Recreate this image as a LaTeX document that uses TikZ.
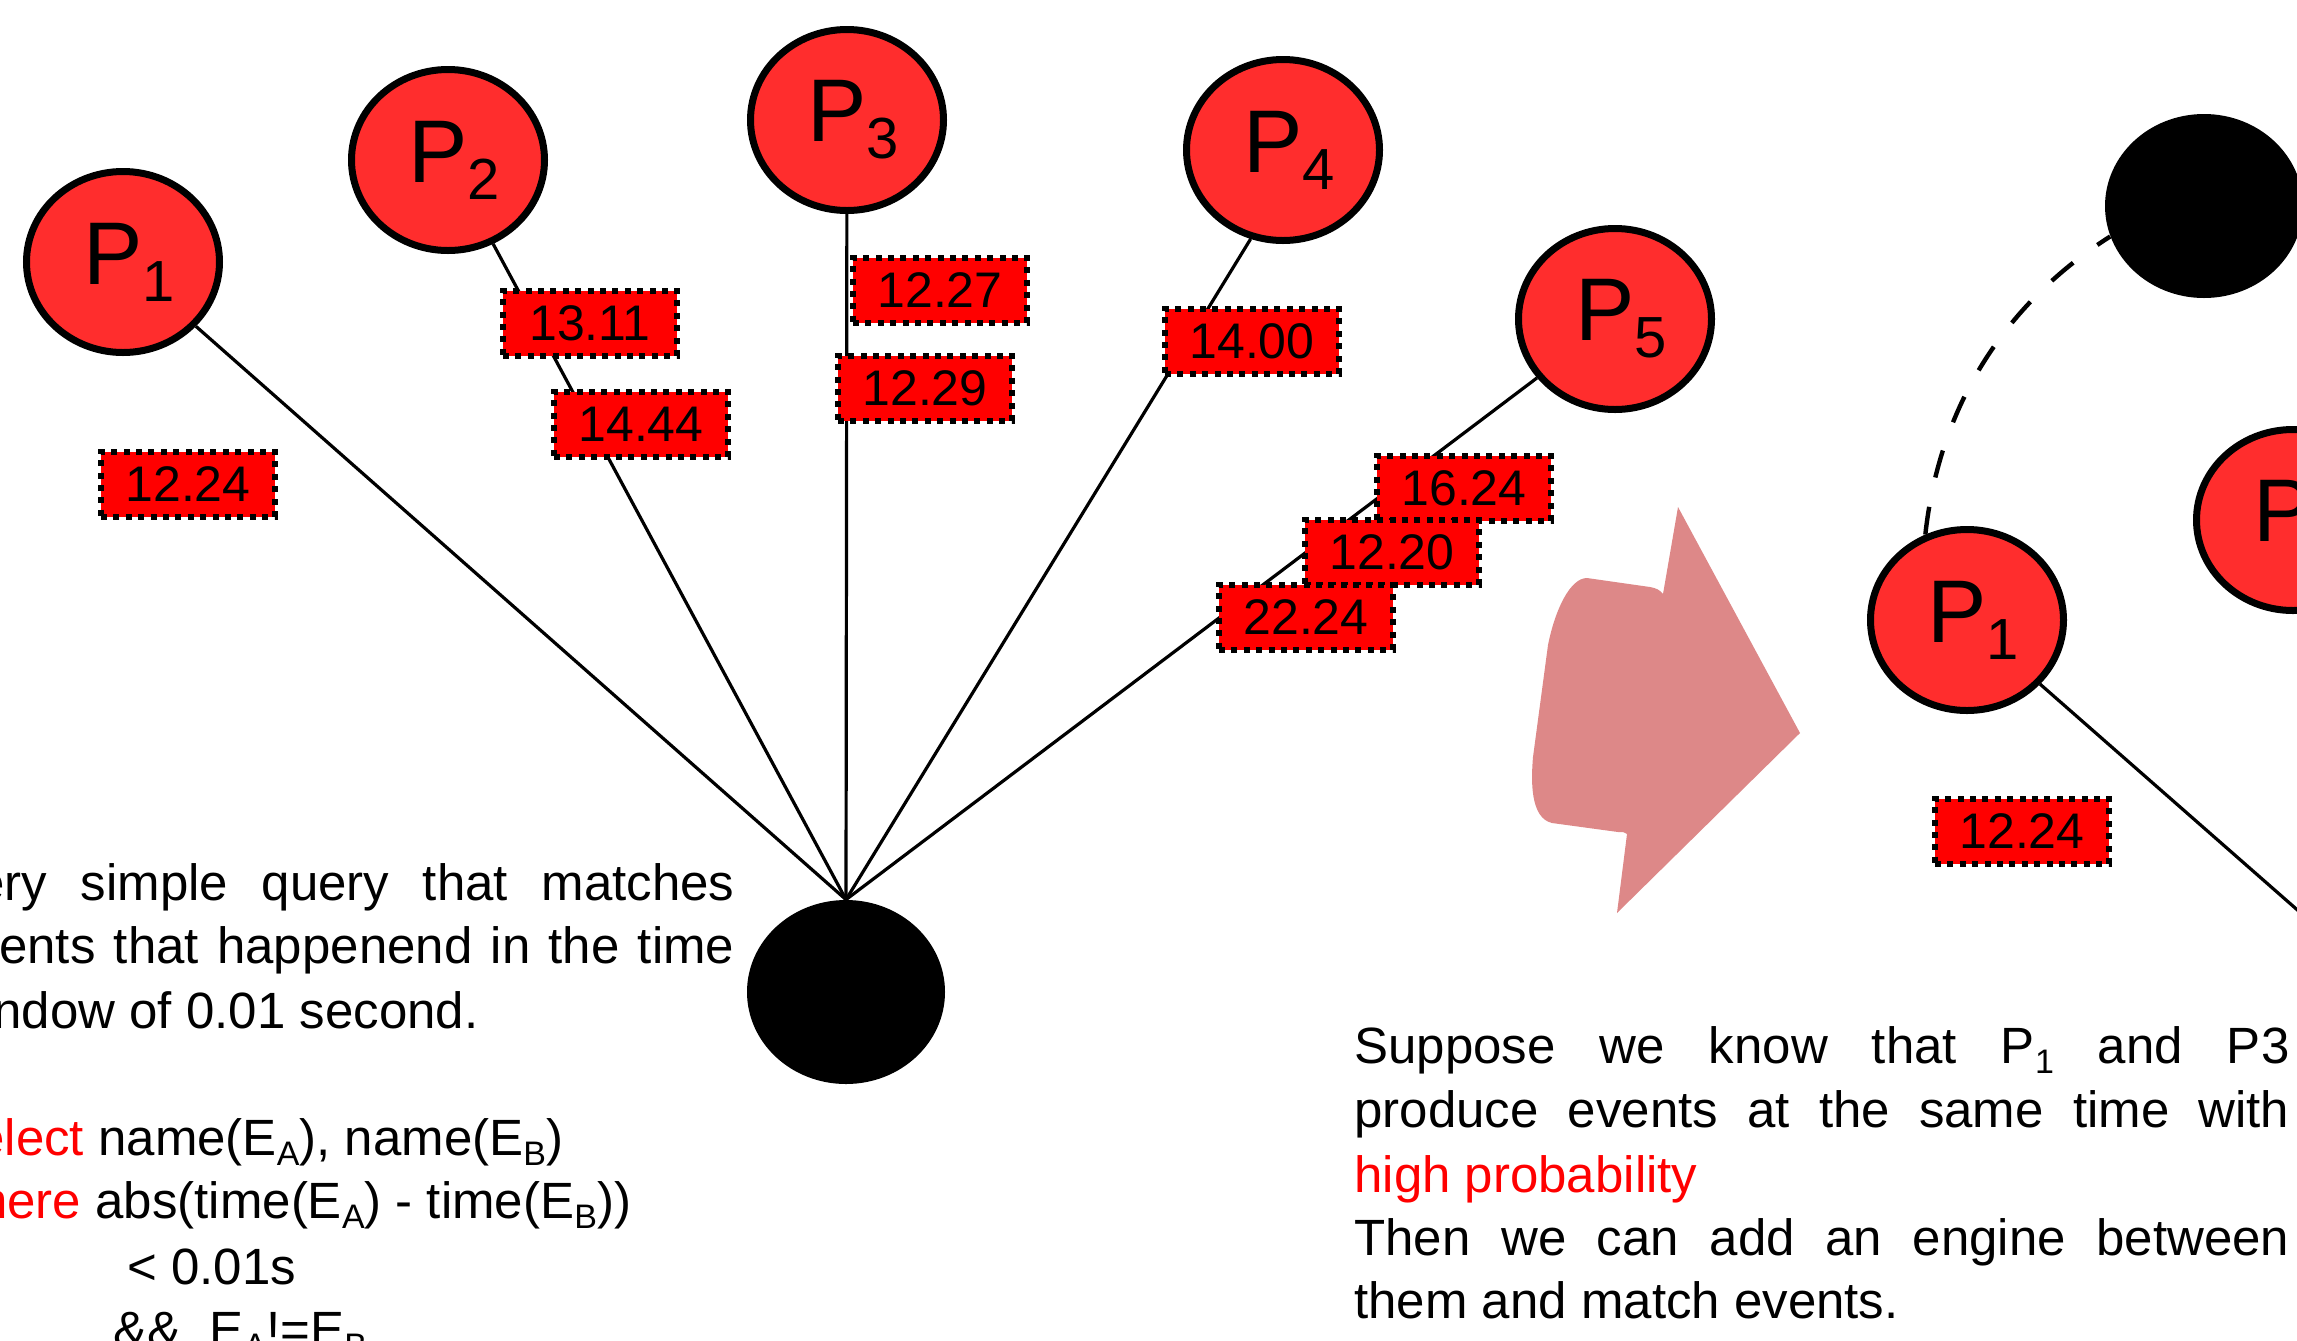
\documentclass[tikz,border=0pt]{standalone}
\usepackage{fontspec}
\setmainfont{Liberation Sans}
\usetikzlibrary{shapes.geometric,backgrounds}

\definecolor{procred}{RGB}{255,45,45}
\definecolor{tagred}{RGB}{255,0,0}
\definecolor{arrowpink}{RGB}{221,136,136}

% small lowered index inside running text
\newcommand{\sbs}[1]{\raisebox{-5pt}{\fontsize{17pt}{17pt}\selectfont #1}}
% producer name with its index, as written inside the ellipse
\newcommand{\pname}[1]{\hspace{6pt}P\raisebox{-8.5pt}{\fontsize{29pt}{29pt}\selectfont #1}}

\begin{document}
\begin{tikzpicture}[x=0.5pt,y=-0.5pt,
  proc/.style={ellipse, draw=black, line width=3.5pt, fill=procred,
    minimum width=96.5pt, minimum height=90.5pt, inner sep=0pt,
    font=\fontsize{44.5pt}{44.5pt}\selectfont},
  engine/.style={ellipse, fill=black, minimum width=99pt, minimum height=92pt, inner sep=0pt},
  stamp/.style={rectangle, fill=tagred, draw=black, line width=3pt,
    dash pattern=on 3pt off 3.2pt, minimum width=87pt, minimum height=32.5pt,
    inner sep=0pt, font=\fontsize{25pt}{25pt}\selectfont},
  link/.style={draw=black, line width=1.6pt},
  txt/.style={anchor=base west, inner sep=0pt, font=\fontsize{25.5pt}{30pt}\selectfont}
]
\useasboundingbox (0,0) rectangle (2297,1340);
\clip (0,0) rectangle (2297,1340);

% ---- left: producers feeding one engine ----
\node[engine] (eng) at (846,992) {};
\node[proc] (P1) at (123,262) {\pname{1}};
\node[proc] (P2) at (448,160) {\pname{2}};
\node[proc] (P3) at (847,120) {\pname{3}};
\node[proc] (P4) at (1283,150) {\pname{4}};
\node[proc] (P5) at (1615,319) {\pname{5}};

\begin{pgfonlayer}{background}
  \draw[link] (eng.north) -- (P1);
  \draw[link] (eng.north) -- (P2);
  \draw[link] (eng.north) -- (P3);
  \draw[link] (eng.north) -- (P4.250);
  \draw[link] (eng.north) -- (P5);
\end{pgfonlayer}

% event time stamps
\node[stamp] (t1) at (188,484) {12.24};
\node[stamp] (t2a) at (590,323) {13.11};
\node[stamp] (t2b) at (641,424) {14.44};
\node[stamp] (t3a) at (940,290) {12.27};
\node[stamp] (t3b) at (925,388) {12.29};
\node[stamp] (t4) at (1252,341) {14.00};
\node[stamp] (t5a) at (1464,488) {16.24};
\node[stamp] (t5b) at (1392,552) {12.20};
\node[stamp] (t5c) at (1306,617) {22.24};

% ---- transition arrow ----
\fill[arrowpink] (1678,507) -- (1800,733) -- (1617,913) -- (1627,834)
  .. controls (1624,832) .. (1618,832) -- (1552,823)
  .. controls (1530,818) and (1531,780) .. (1533,757) -- (1548,645)
  .. controls (1555,610) and (1570,578) .. (1587,578) -- (1650,587)
  .. controls (1656,588) and (1660,590) .. (1663,594) -- cycle;

% ---- right: engine placed between P1 and P3 ----
\node[engine] (engR) at (2204,206) {};
\node[proc] (P1r) at (1967,620) {\pname{1}};
\node[proc] (P3r) at (2293,520) {\pname{3}};
\coordinate (offr) at (2400,1000);
\begin{pgfonlayer}{background}
  \draw[link] (P1r) -- (offr);
  \draw[line width=2.2pt, dash pattern=on 14pt off 15pt]
    (P1r.116) .. controls (1940,400) and (2010,300) .. (engR.198);
\end{pgfonlayer}
\node[stamp] (t1r) at (2022,831) {12.24};

% ---- left explanation and query ----
\node[txt] (l1) at (-55,900) {\makebox[394.5pt][s]{Very simple query that matches}};
\node[txt] (l2) at (-55,963) {\makebox[394.5pt][s]{events that happenend in the time}};
\node[txt] (l3) at (-55,1028) {window of 0.01 second.};
\node[txt] (l5) at (-58,1155) {{\color{tagred}Select} name(E\sbs{A}), name(E\sbs{B})};
\node[txt] (l6) at (-58,1218) {{\color{tagred}where} abs(time(E\sbs{A}) - time(E\sbs{B}))};
\node[txt] (l7) at (127,1284) {< 0.01s};
\node[txt] (l8) at (113,1347) {\&\&\ \ E\sbs{A}!=E\sbs{B}};

% ---- right explanation ----
\node[txt] (r1) at (1354,1063) {\makebox[467.5pt][s]{Suppose we know that P\sbs{1} and P3}};
\node[txt] (r2) at (1354,1127) {\makebox[467.5pt][s]{produce events at the same time with}};
\node[txt] (r3) at (1354,1192) {\color{tagred}high probability};
\node[txt] (r4) at (1354,1255) {\makebox[467.5pt][s]{Then we can add an engine between}};
\node[txt] (r5) at (1354,1318) {them and match events.};
\end{tikzpicture}
\end{document}
